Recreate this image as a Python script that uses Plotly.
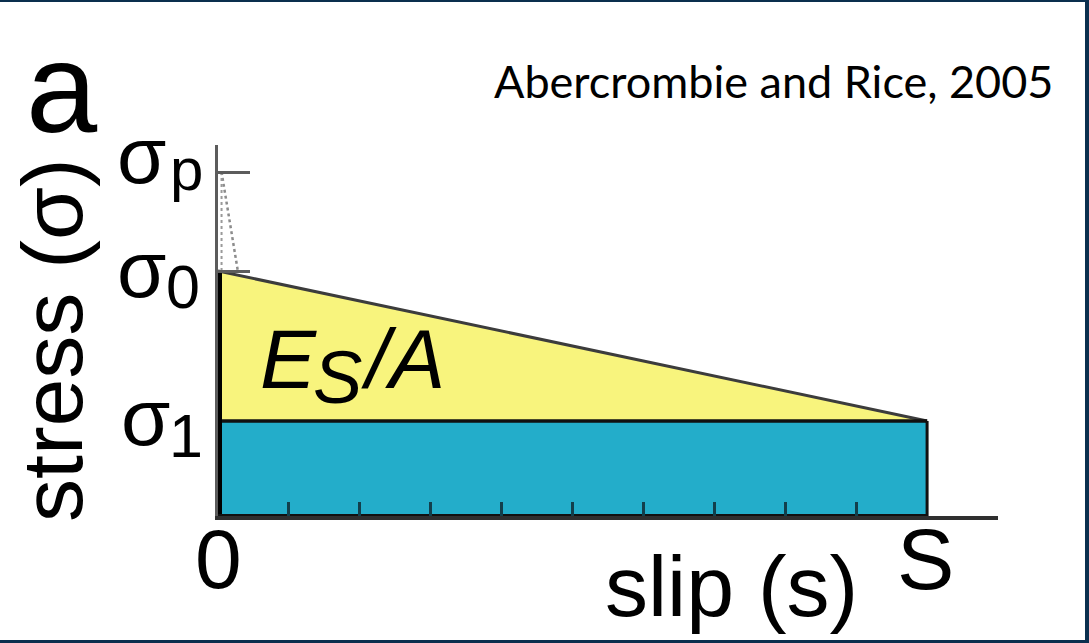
import plotly.graph_objects as go

# ---- data -------------------------------------------------------------
# slip axis runs from 0 to the total slip S, with minor ticks every S/10
slip_total = 1.0
slip_minor_ticks = [0.1, 0.2, 0.3, 0.4, 0.5, 0.6, 0.7, 0.8, 0.9]
slip_axis_end = 1.1

# stress levels: final (sigma_1), initial (sigma_0) and peak (sigma_p)
sigma_1 = 0.95
sigma_0 = 2.45
sigma_p = 3.44
stress_axis_top = 3.71

# dotted peak-to-initial drop close to s = 0
peak_drop_slip = [0.005, 0.028]
peak_drop_stress = [sigma_p, sigma_0]
peak_edge_slip = [0.005, 0.005]
peak_edge_stress = [sigma_p, sigma_0]

# ---- page geometry ----------------------------------------------------
FIG_W, FIG_H = 1089, 643
L, R, T, B = 218, 91, 145, 127
PW, PH = FIG_W - L - R, FIG_H - T - B


def px_x(px):
    return (px - L) / PW


def px_y(py):
    return (FIG_H - B - py) / PH


BLUE = "#23adca"
YELLOW = "#f8f47d"
NAVY = "#0a2f4e"
SANS = "Liberation Sans, Arial, sans-serif"

fig = go.Figure()

# fracture energy block below sigma_1
fig.add_trace(go.Scatter(
    x=[0, slip_total, slip_total, 0, 0],
    y=[0, 0, sigma_1, sigma_1, 0],
    fill="toself", fillcolor=BLUE, mode="lines",
    line=dict(width=0, color=BLUE), hoverinfo="skip"))

# radiated energy triangle between sigma_0 and sigma_1
fig.add_trace(go.Scatter(
    x=[0, 0, slip_total, 0],
    y=[sigma_1, sigma_0, sigma_1, sigma_1],
    fill="toself", fillcolor=YELLOW, mode="lines",
    line=dict(width=0, color=YELLOW), hoverinfo="skip"))

# linear weakening from sigma_0 down to sigma_1
fig.add_trace(go.Scatter(
    x=[0, slip_total], y=[sigma_0, sigma_1], mode="lines",
    line=dict(color="#3c3c3c", width=3), hoverinfo="skip"))

# outline of the blocks
fig.add_trace(go.Scatter(
    x=[0, slip_total], y=[sigma_1, sigma_1], mode="lines",
    line=dict(color="#111111", width=3.5), hoverinfo="skip"))
fig.add_trace(go.Scatter(
    x=[slip_total, slip_total], y=[0, sigma_1], mode="lines",
    line=dict(color="#111111", width=3), hoverinfo="skip"))
fig.add_trace(go.Scatter(
    x=[0, 0], y=[0, sigma_0], mode="lines",
    line=dict(color="#000000", width=8), hoverinfo="skip"))
fig.add_trace(go.Scatter(
    x=[0, slip_total], y=[0, 0], mode="lines",
    line=dict(color="#111111", width=4), hoverinfo="skip"))

# dotted drop from peak stress
fig.add_trace(go.Scatter(
    x=peak_drop_slip, y=peak_drop_stress, mode="lines",
    line=dict(color="#8c8c8c", width=2.5, dash="dot"), hoverinfo="skip"))
fig.add_trace(go.Scatter(
    x=peak_edge_slip, y=peak_edge_stress, mode="lines",
    line=dict(color="#9a9a9a", width=2, dash="dot"), hoverinfo="skip"))


def text_at(txt, cx, baseline, size, family=SANS, anchor="center",
            angle=0, ascent=0.905, descent=0.212):
    """Place text by its horizontal anchor and baseline (page pixels)."""
    centre_y = baseline - (ascent - (ascent + descent) / 2) * size
    fig.add_annotation(
        text=txt, xref="paper", yref="paper",
        x=px_x(cx), y=px_y(centre_y), xanchor=anchor, yanchor="middle",
        showarrow=False, textangle=angle,
        font=dict(family=family, size=size, color="#000000"))


# panel letter and reference
text_at("a", 62, 132, 128)
text_at("Abercrombie and Rice, 2005", 773, 98, 45, family="Lato",
        ascent=0.987, descent=0.213)

# axis titles
fig.add_annotation(
    text="stress (σ)", xref="paper", yref="paper",
    x=px_x(52), y=px_y(340), xanchor="center", yanchor="middle",
    showarrow=False, textangle=-90,
    font=dict(family=SANS, size=86, color="#000000"))
text_at("slip (s)", 731, 616, 86)

# slip tick labels
text_at("0", 218, 588, 84)
text_at("S", 925, 589, 86)

# stress level labels
text_at("σ", 141, 183, 80)
text_at("p", 186, 190, 60)
text_at("σ", 141, 297, 80)
text_at("0", 183, 308, 61)
text_at("σ", 145, 445, 80)
text_at("1", 186, 457, 61)

# energy label inside the triangle
text_at("<i>E</i>", 288, 388, 84)
text_at("<i>S</i>", 337, 403, 74)
text_at("<i>/A</i>", 403, 388, 84)

# navy frame along top, right and bottom edges
for x0, y0, x1, y1 in [(0, 0, FIG_W, 2), (1085, 0, FIG_W, FIG_H),
                       (0, 640, FIG_W, FIG_H)]:
    fig.add_shape(type="rect", xref="paper", yref="paper",
                  x0=px_x(x0), x1=px_x(x1), y0=px_y(y0), y1=px_y(y1),
                  line=dict(width=0), fillcolor=NAVY, layer="above")

fig.update_xaxes(
    range=[0, slip_axis_end], showgrid=False, zeroline=False,
    showline=True, linecolor="#2f2f2f", linewidth=4,
    tickmode="array", tickvals=slip_minor_ticks, ticks="inside",
    ticklen=14, tickwidth=3, tickcolor="#123f4b", showticklabels=False,
    fixedrange=True)
fig.update_yaxes(
    range=[0, stress_axis_top], showgrid=False, zeroline=False,
    showline=True, linecolor="#5c5c5c", linewidth=3,
    tickmode="array", tickvals=[sigma_0, sigma_p], ticks="inside",
    ticklen=32, tickwidth=3, tickcolor="#5c5c5c", showticklabels=False,
    fixedrange=True)

fig.update_layout(
    width=FIG_W, height=FIG_H, autosize=False,
    margin=dict(l=L, r=R, t=T, b=B, pad=0),
    paper_bgcolor="#ffffff", plot_bgcolor="rgba(0,0,0,0)",
    showlegend=False)

fig.write_html("out.html", config={"displayModeBar": False})
